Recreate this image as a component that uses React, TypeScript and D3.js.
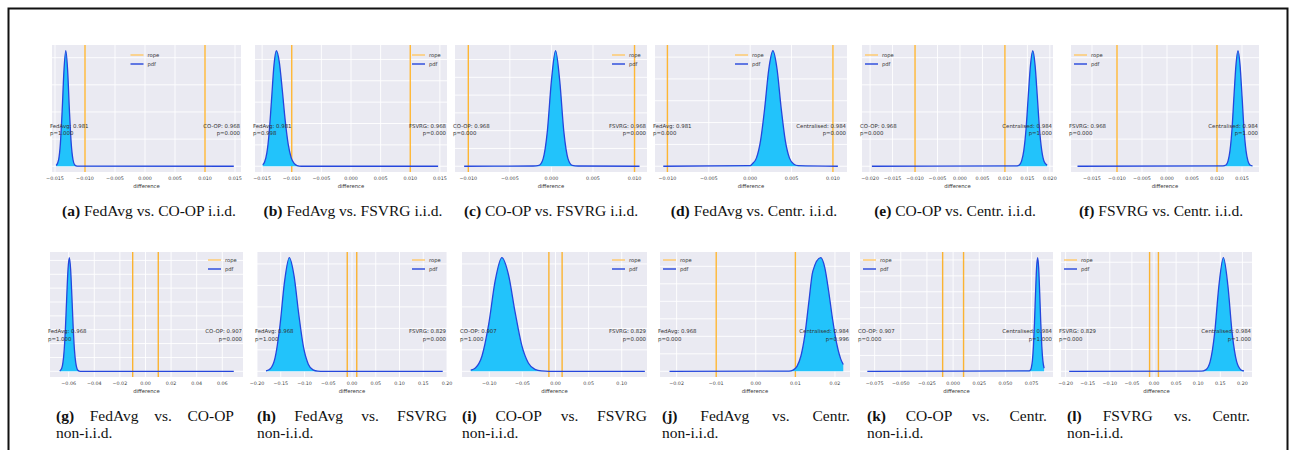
import React, { useEffect, useRef } from "react";
import * as d3 from "d3";

// sub-figure captions
const captionTags = ["(a)", "(b)", "(c)", "(d)", "(e)", "(f)", "(g)", "(h)", "(i)", "(j)", "(k)", "(l)"];
const captionTexts = [
  "FedAvg vs. CO-OP i.i.d.",
  "FedAvg vs. FSVRG i.i.d.",
  "CO-OP vs. FSVRG i.i.d.",
  "FedAvg vs. Centr. i.i.d.",
  "CO-OP vs. Centr. i.i.d.",
  "FSVRG vs. Centr. i.i.d.",
  "FedAvg vs. CO-OP",
  "FedAvg vs. FSVRG",
  "CO-OP vs. FSVRG",
  "FedAvg vs. Centr.",
  "CO-OP vs. Centr.",
  "FSVRG vs. Centr.",
];

// annotations
const leftNames = [
  "FedAvg: 0.981", "FedAvg: 0.981", "CO-OP: 0.968", "FedAvg: 0.981", "CO-OP: 0.968", "FSVRG: 0.968",
  "FedAvg: 0.968", "FedAvg: 0.968", "CO-OP: 0.907", "FedAvg: 0.968", "CO-OP: 0.907", "FSVRG: 0.829",
];
const leftP = ["p=1.000", "p=0.998", "p=0.000", "p=0.000", "p=0.000", "p=0.000", "p=1.000", "p=1.000", "p=1.000", "p=0.000", "p=0.000", "p=0.000"];
const rightNames = [
  "CO-OP: 0.968", "FSVRG: 0.968", "FSVRG: 0.968", "Centralised: 0.984", "Centralised: 0.984", "Centralised: 0.984",
  "CO-OP: 0.907", "FSVRG: 0.829", "FSVRG: 0.829", "Centralised: 0.984", "Centralised: 0.984", "Centralised: 0.984",
];
const rightP = ["p=0.000", "p=0.000", "p=0.000", "p=0.000", "p=1.000", "p=1.000", "p=0.000", "p=0.000", "p=0.000", "p=0.996", "p=1.000", "p=1.000"];

// x axis limits and ticks
const xDomains = [
  [-0.0155, 0.016], [-0.0162, 0.0162], [-0.0116, 0.0115], [-0.0115, 0.0117], [-0.0218, 0.0207], [-0.0192, 0.0184],
  [-0.0746, 0.0762], [-0.2, 0.2], [-0.1412, 0.1382], [-0.0242, 0.0238], [-0.089, 0.0955], [-0.2104, 0.2217],
];
const ticks3a = [-0.015, -0.01, -0.005, 0, 0.005, 0.01, 0.015];
const ticks3c = [-0.01, -0.005, 0, 0.005, 0.01];
const ticks3e = [-0.02, -0.015, -0.01, -0.005, 0, 0.005, 0.01, 0.015, 0.02];
const ticks2g = [-0.06, -0.04, -0.02, 0, 0.02, 0.04, 0.06];
const ticks2h = [-0.2, -0.15, -0.1, -0.05, 0, 0.05, 0.1, 0.15, 0.2];
const ticks2i = [-0.1, -0.05, 0, 0.05, 0.1];
const ticks2j = [-0.02, -0.01, 0, 0.01, 0.02];
const ticks3k = [-0.075, -0.05, -0.025, 0, 0.025, 0.05, 0.075];
const tickSets = [ticks3a, ticks3a, ticks3c, ticks3c, ticks3e, ticks3a, ticks2g, ticks2h, ticks2i, ticks2j, ticks3k, ticks2h];
const tickDigits = [3, 3, 3, 3, 3, 3, 2, 2, 2, 2, 3, 2];
const gridSteps = [0.235, 0.185, 0.154, 0.189, 0.235, 0.235, 0.122, 0.189, 0.189, 0.154, 0.14, 0.192];
const rope = [-0.01, 0.01];

// posterior pdf of the difference, relative height (peak = 1)
const pdfA = [[-0.0148, 0.006], [-0.0144, 0.056], [-0.0141, 0.198], [-0.0138, 0.487], [-0.0135, 0.835], [-0.0132, 1], [-0.0129, 0.835], [-0.0126, 0.487], [-0.0123, 0.198], [-0.012, 0.056], [-0.0117, 0.011], [-0.0113, 0.001], [0.0148, 0]];
const pdfB = [[-0.0149, 0.012], [-0.0146, 0.034], [-0.0142, 0.115], [-0.0138, 0.297], [-0.0134, 0.583], [-0.013, 0.874], [-0.0126, 1], [-0.0121, 0.902], [-0.0116, 0.662], [-0.0111, 0.395], [-0.0106, 0.191], [-0.0101, 0.075], [-0.0096, 0.024], [-0.0091, 0.006], [-0.0084, 0], [0.0147, 0]];
const pdfC = [[-0.0105, 0], [-0.0022, 0.002], [-0.0015, 0.008], [-0.001, 0.064], [-0.0005, 0.295], [0, 0.74], [0.0005, 1], [0.001, 0.74], [0.0015, 0.295], [0.002, 0.064], [0.0025, 0.008], [0.0032, 0.002], [0.0106, 0]];
const pdfD = [[-0.0105, 0], [0, 0.005], [0.00025, 0.02], [0.00075, 0.07], [0.00125, 0.22], [0.00175, 0.5], [0.00225, 0.84], [0.00275, 1], [0.00325, 0.84], [0.00375, 0.5], [0.00425, 0.22], [0.00475, 0.07], [0.00525, 0.02], [0.0058, 0.005], [0.0106, 0]];
const pdfE = [[-0.0196, 0], [0.0127, 0.003], [0.0132, 0.011], [0.0137, 0.044], [0.0142, 0.135], [0.0147, 0.32], [0.0152, 0.61], [0.0157, 0.88], [0.0162, 1], [0.0167, 0.88], [0.0172, 0.61], [0.0177, 0.32], [0.0182, 0.135], [0.0187, 0.044], [0.0194, 0.008]];
const pdfF = [[-0.0179, 0], [0.0112, 0.003], [0.0118, 0.011], [0.0122, 0.044], [0.0126, 0.135], [0.013, 0.32], [0.0134, 0.61], [0.0138, 0.88], [0.0142, 1], [0.0146, 0.88], [0.015, 0.61], [0.0154, 0.32], [0.0158, 0.135], [0.0162, 0.044], [0.0166, 0.011], [0.0171, 0.003]];
const pdfG = [[-0.067, 0.004], [-0.0655, 0.024], [-0.0645, 0.076], [-0.0635, 0.19], [-0.0625, 0.39], [-0.0615, 0.66], [-0.0605, 0.9], [-0.0595, 1], [-0.0585, 0.9], [-0.0575, 0.66], [-0.0565, 0.39], [-0.0555, 0.19], [-0.0545, 0.076], [-0.0535, 0.024], [-0.0525, 0.006], [-0.051, 0], [0.069, 0]];
const pdfH = [[-0.181, 0.003], [-0.172, 0.022], [-0.162, 0.118], [-0.152, 0.39], [-0.142, 0.79], [-0.132, 1], [-0.122, 0.84], [-0.112, 0.5], [-0.102, 0.21], [-0.092, 0.063], [-0.082, 0.013], [-0.072, 0.002], [-0.06, 0], [0.191, 0]];
const pdfI = [[-0.128, 0.01], [-0.121, 0.029], [-0.111, 0.135], [-0.101, 0.41], [-0.091, 0.8], [-0.081, 1], [-0.071, 0.85], [-0.061, 0.52], [-0.051, 0.23], [-0.041, 0.073], [-0.031, 0.017], [-0.021, 0.003], [-0.01, 0], [0.135, 0]];
const pdfJ = [[-0.0218, 0], [0.0084, 0.002], [0.0094, 0.011], [0.0104, 0.044], [0.0114, 0.135], [0.0124, 0.32], [0.0134, 0.61], [0.0144, 0.88], [0.0164, 1], [0.0174, 0.917], [0.0184, 0.707], [0.0194, 0.458], [0.0204, 0.25], [0.0214, 0.114], [0.0221, 0.06]];
const pdfK = [[-0.082, 0], [0.0728, 0.004], [0.0738, 0.01], [0.0748, 0.033], [0.0758, 0.094], [0.0768, 0.22], [0.0778, 0.43], [0.0788, 0.685], [0.0798, 0.91], [0.0808, 1], [0.0818, 0.91], [0.0828, 0.685], [0.0838, 0.43], [0.0848, 0.22], [0.0858, 0.094], [0.087, 0.027]];
const pdfL = [[-0.192, 0], [0.107, 0.001], [0.117, 0.0124], [0.127, 0.085], [0.137, 0.33], [0.147, 0.76], [0.157, 1], [0.167, 0.76], [0.177, 0.33], [0.187, 0.085], [0.197, 0.0124], [0.2036, 0.003]];
const pdfs = [pdfA, pdfB, pdfC, pdfD, pdfE, pdfF, pdfG, pdfH, pdfI, pdfJ, pdfK, pdfL];

const legendLoc = ["center", "right", "right", "center", "left", "left", "right", "right", "right", "left", "left", "left"];

// layout (pixels)
const plotX = [
  [52, 241], [255, 447], [455, 647], [655, 847], [862, 1053], [1071, 1259],
  [50, 243], [257, 447], [462, 647], [660, 850], [860, 1053], [1061, 1252],
];
const rowY = [[45, 172], [252, 377]];
const topCaptionX = [149, 353, 551, 754, 955, 1161];
const bottomCaptionX = [[56, 234], [257, 447], [462, 647], [662, 850], [867, 1047], [1067, 1250]];

const SANS = "DejaVu Sans";
const SERIF = "Liberation Serif";

const App = () => {
  const ref = useRef<SVGSVGElement>(null);

  useEffect(() => {
    const svg = d3.select(ref.current);
    svg.selectAll("*").remove();

    svg.append("rect").attr("width", 1296).attr("height", 450).attr("fill", "#fff");
    svg.append("rect")
      .attr("x", 8.5).attr("y", 8.5).attr("width", 1279).attr("height", 480)
      .attr("fill", "none").attr("stroke", "#111").attr("stroke-width", 2);

    pdfs.forEach((pts, i) => {
      const [x0, x1] = plotX[i];
      const [y0, y1] = rowY[i < 6 ? 0 : 1];
      const x = d3.scaleLinear().domain(xDomains[i]).range([x0, x1]);
      const y = d3.scaleLinear().domain([-0.05, 1.05]).range([y1, y0]);
      const g = svg.append("g");

      g.append("rect").attr("x", x0).attr("y", y0).attr("width", x1 - x0).attr("height", y1 - y0).attr("fill", "#eaeaf2");

      // grid
      g.selectAll(".vg").data(tickSets[i]).enter().append("line")
        .attr("x1", (d) => x(d)).attr("x2", (d) => x(d)).attr("y1", y0).attr("y2", y1)
        .attr("stroke", "#fff").attr("stroke-width", 0.9);
      g.selectAll(".hg").data(d3.range(0, 1.05, gridSteps[i])).enter().append("line")
        .attr("x1", x0).attr("x2", x1).attr("y1", (d) => y(d)).attr("y2", (d) => y(d))
        .attr("stroke", "#fff").attr("stroke-width", 0.9);

      // rope
      g.selectAll(".rope").data(rope).enter().append("line")
        .attr("x1", (d) => x(d)).attr("x2", (d) => x(d)).attr("y1", y0).attr("y2", y1)
        .attr("stroke", "#ffa500").attr("stroke-opacity", 0.8).attr("stroke-width", 1.4);

      const area = d3.area<number[]>().x((d) => x(d[0])).y0(y(0)).y1((d) => y(d[1])).curve(d3.curveMonotoneX);
      const line = d3.line<number[]>().x((d) => x(d[0])).y((d) => y(d[1])).curve(d3.curveMonotoneX);
      g.append("path").attr("d", area(pts)).attr("fill", "#22c3fb");
      g.append("path").attr("d", line(pts)).attr("fill", "none").attr("stroke", "#2546dc").attr("stroke-width", 1.3);

      // tick labels
      const fmt = d3.format("." + tickDigits[i] + "f");
      g.selectAll(".tl").data(tickSets[i]).enter().append("text")
        .attr("x", (d) => x(d)).attr("y", y1 + 7.5)
        .attr("text-anchor", "middle").attr("font-family", SANS).attr("font-size", 4.8).attr("fill", "#444")
        .text((d) => fmt(d));
      g.append("text").attr("x", (x0 + x1) / 2).attr("y", y1 + 16)
        .attr("text-anchor", "middle").attr("font-family", SANS).attr("font-size", 5.3).attr("fill", "#333")
        .text("difference");

      // annotations
      const ay = y(1 / 3);
      const ann = (tx: number, anchor: string, a: string, b: string) => {
        g.append("text").attr("x", tx).attr("y", ay).attr("text-anchor", anchor)
          .attr("font-family", SANS).attr("font-size", 5.4).attr("fill", "#333").text(a);
        g.append("text").attr("x", tx).attr("y", ay + 7.2).attr("text-anchor", anchor)
          .attr("font-family", SANS).attr("font-size", 5.4).attr("fill", "#333").text(b);
      };
      ann(x0 - 2, "start", leftNames[i], leftP[i]);
      ann(x1 - 1, "end", rightNames[i], rightP[i]);

      // legend
      const loc = legendLoc[i];
      const lx = loc === "center" ? (x0 + x1) / 2 - 16 : loc === "right" ? x1 - 35 : x0 + 3;
      const ly = y0 + (i < 6 ? 10 : 8);
      [["rope", "#ffc766"], ["pdf", "#2546dc"]].forEach(([name, c], k) => {
        g.append("line").attr("x1", lx).attr("x2", lx + 13).attr("y1", ly + k * 9).attr("y2", ly + k * 9)
          .attr("stroke", c).attr("stroke-width", 1.4);
        g.append("text").attr("x", lx + 17).attr("y", ly + k * 9 + 1.8)
          .attr("font-family", SANS).attr("font-size", 5.2).attr("fill", "#333").text(name);
      });
    });

    // captions, top row centred
    topCaptionX.forEach((cx, i) => {
      const t = svg.append("text").attr("x", cx).attr("y", 216).attr("text-anchor", "middle")
        .attr("font-family", SERIF).attr("font-size", 15.5).attr("fill", "#111");
      t.append("tspan").attr("font-weight", "bold").text(captionTags[i]);
      t.append("tspan").text(" " + captionTexts[i]);
    });

    // captions, bottom row justified over two lines
    bottomCaptionX.forEach(([l, r], k) => {
      const i = k + 6;
      const words = [captionTags[i], ...captionTexts[i].split(" ")];
      const nodes = words.map((w, j) =>
        svg.append("text").attr("y", 421).attr("font-family", SERIF).attr("font-size", 15.5)
          .attr("fill", "#111").attr("font-weight", j === 0 ? "bold" : "normal").text(w)
      );
      const widths = nodes.map((n) => (n.node() as SVGTextElement).getComputedTextLength());
      const gap = (r - l - d3.sum(widths)) / (words.length - 1);
      let cx = l;
      nodes.forEach((n, j) => {
        n.attr("x", cx);
        cx += widths[j] + gap;
      });
      svg.append("text").attr("x", l).attr("y", 438).attr("font-family", SERIF).attr("font-size", 15.5)
        .attr("fill", "#111").text("non-i.i.d.");
    });
  }, []);

  return (
    <svg ref={ref} width={1296} height={450} style={{ position: "absolute", left: 0, top: 0 }}></svg>
  );
};

export default App;
